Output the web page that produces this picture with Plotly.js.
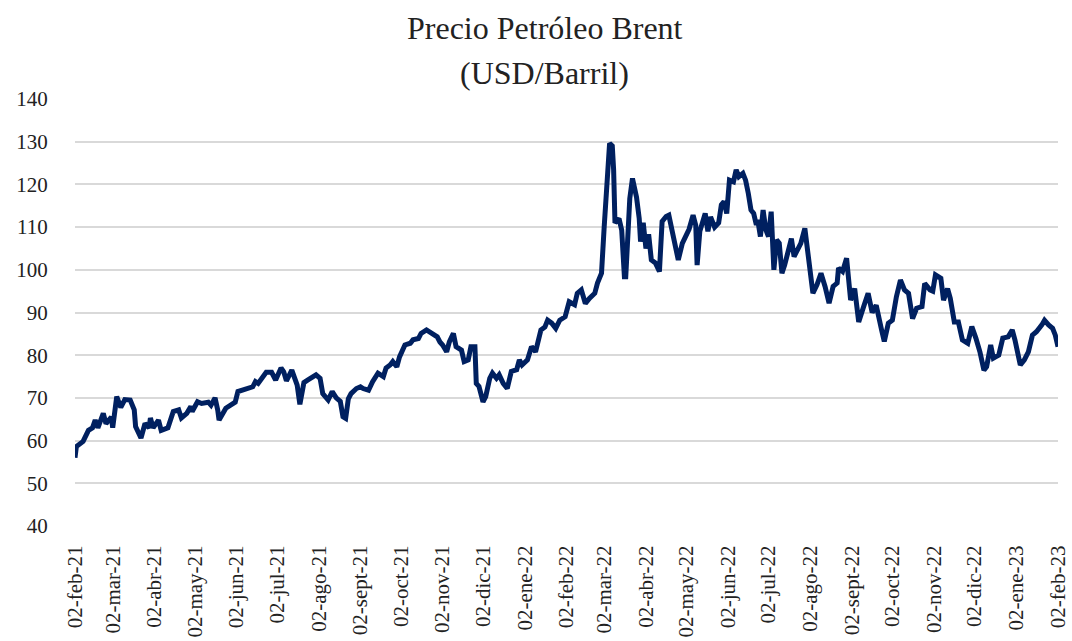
<!DOCTYPE html>
<html>
<head>
<meta charset="utf-8">
<script src="https://cdn.plot.ly/plotly-3.0.1.min.js"></script>
<style>
  body { margin: 0; background: #fff; }
  #grafico { width: 1072px; height: 641px; }
</style>
</head>
<body>
<div id="grafico"></div>
<script>
// Precio Brent (USD/barril)
var fechas = [
  "2021-02-02","2021-02-03","2021-02-08","2021-02-12","2021-02-15","2021-02-17","2021-02-19","2021-02-23","2021-02-25","2021-03-01",
  "2021-03-02","2021-03-05","2021-03-08","2021-03-11","2021-03-15","2021-03-18","2021-03-19","2021-03-23","2021-03-26","2021-03-29",
  "2021-03-30","2021-04-01","2021-04-05","2021-04-07","2021-04-12","2021-04-16","2021-04-20","2021-04-22","2021-04-26","2021-04-29",
  "2021-04-30","2021-05-04","2021-05-07","2021-05-12","2021-05-14","2021-05-17","2021-05-19","2021-05-20","2021-05-25","2021-05-28",
  "2021-06-01","2021-06-03","2021-06-08","2021-06-14","2021-06-16","2021-06-18","2021-06-24","2021-06-28","2021-07-01","2021-07-05",
  "2021-07-07","2021-07-09","2021-07-13","2021-07-16","2021-07-17","2021-07-19","2021-07-22","2021-07-25","2021-07-31","2021-08-03",
  "2021-08-05","2021-08-09","2021-08-12","2021-08-15","2021-08-18","2021-08-20","2021-08-22","2021-08-24","2021-08-26","2021-08-30",
  "2021-09-02","2021-09-04","2021-09-08","2021-09-11","2021-09-15","2021-09-19","2021-09-21","2021-09-24","2021-09-26","2021-09-29",
  "2021-10-01","2021-10-05","2021-10-09","2021-10-11","2021-10-15","2021-10-17","2021-10-21","2021-10-25","2021-10-29","2021-10-31",
  "2021-11-02","2021-11-05","2021-11-07","2021-11-10","2021-11-12","2021-11-16","2021-11-18","2021-11-21","2021-11-23","2021-11-26",
  "2021-11-27","2021-11-29","2021-12-02","2021-12-04","2021-12-07","2021-12-09","2021-12-12","2021-12-14","2021-12-17","2021-12-20",
  "2021-12-23","2021-12-27","2021-12-29","2021-12-31","2022-01-04","2022-01-07","2022-01-10","2022-01-14","2022-01-17","2022-01-19",
  "2022-01-22","2022-01-25","2022-01-28","2022-02-01","2022-02-04","2022-02-08","2022-02-10","2022-02-13","2022-02-16","2022-02-19",
  "2022-02-23","2022-02-25","2022-02-28","2022-03-02","2022-03-03","2022-03-04","2022-03-06","2022-03-08","2022-03-09","2022-03-10",
  "2022-03-13","2022-03-15","2022-03-17","2022-03-18","2022-03-19","2022-03-21","2022-03-23","2022-03-25","2022-03-26","2022-03-28",
  "2022-03-29","2022-03-31","2022-04-02","2022-04-04","2022-04-06","2022-04-09","2022-04-12","2022-04-14","2022-04-17","2022-04-19",
  "2022-04-21","2022-04-23","2022-04-26","2022-04-29","2022-05-01","2022-05-04","2022-05-07","2022-05-09","2022-05-10","2022-05-12",
  "2022-05-16","2022-05-18","2022-05-20","2022-05-23","2022-05-26","2022-05-28","2022-05-30","2022-06-01","2022-06-03","2022-06-06",
  "2022-06-08","2022-06-10","2022-06-13","2022-06-15","2022-06-17","2022-06-19","2022-06-21","2022-06-23","2022-06-24","2022-06-26",
  "2022-06-28","2022-06-30","2022-07-02","2022-07-04","2022-07-06","2022-07-08","2022-07-10","2022-07-12","2022-07-14","2022-07-17",
  "2022-07-19","2022-07-21","2022-07-24","2022-07-26","2022-07-29","2022-08-01","2022-08-04","2022-08-07","2022-08-10","2022-08-13",
  "2022-08-16","2022-08-19","2022-08-22","2022-08-23","2022-08-26","2022-08-29","2022-09-01","2022-09-04","2022-09-07","2022-09-11",
  "2022-09-14","2022-09-17","2022-09-20","2022-09-24","2022-09-26","2022-09-29","2022-10-02","2022-10-05","2022-10-08","2022-10-11",
  "2022-10-14","2022-10-17","2022-10-20","2022-10-24","2022-10-26","2022-10-30","2022-11-01","2022-11-03","2022-11-07","2022-11-09",
  "2022-11-12","2022-11-14","2022-11-17","2022-11-20","2022-11-23","2022-11-27","2022-11-30","2022-12-03","2022-12-06","2022-12-09",
  "2022-12-11","2022-12-14","2022-12-16","2022-12-20","2022-12-23","2022-12-27","2022-12-30","2023-01-01","2023-01-03","2023-01-05",
  "2023-01-08","2023-01-11","2023-01-14","2023-01-17","2023-01-21","2023-01-23","2023-01-26","2023-01-29","2023-01-31","2023-02-02"
];
var precios = [
  56.0,58.6,59.8,62.4,63.0,64.8,63.0,66.4,64.0,65.5,
  63.0,70.3,67.8,69.6,69.5,67.2,63.3,60.6,64.0,63.0,
  65.3,63.0,64.8,62.4,63.0,66.8,67.2,65.3,66.4,68.0,
  66.8,69.1,68.7,69.0,68.3,70.0,67.1,64.8,67.6,68.3,
  69.0,71.5,71.9,72.6,73.8,73.4,76.0,76.0,74.2,77.0,
  76.1,74.0,76.5,74.3,73.0,68.5,73.6,74.2,75.4,74.6,
  71.0,69.5,71.5,70.0,69.2,65.6,65.2,69.8,71.0,72.2,
  72.6,72.2,71.8,73.8,75.8,75.0,77.0,77.7,78.5,77.3,
  79.6,82.4,82.8,83.6,83.9,85.1,85.9,85.1,84.3,83.1,
  82.4,80.8,83.1,85.1,82.0,81.2,78.5,78.9,82.0,82.0,
  73.4,72.7,69.1,70.3,74.6,75.8,74.6,75.4,73.4,72.2,
  76.2,76.6,78.9,77.7,78.9,82.0,80.8,85.9,86.6,88.2,
  87.5,86.3,88.2,89.0,92.5,91.8,94.5,95.3,92.1,93.3,
  94.5,96.9,99.2,110.1,114.5,118.0,129.6,129.0,123.4,111.0,
  112.0,109.3,98.4,98.4,107.0,116.7,121.4,119.0,117.0,112.0,
  106.6,111.0,105.0,108.3,102.3,101.6,99.6,111.3,112.5,112.8,
  109.4,106.2,102.3,106.2,107.3,109.5,112.8,110.4,101.1,109.0,
  113.2,109.0,112.4,110.0,111.0,115.2,116.0,113.2,121.0,120.6,
  123.4,121.8,122.6,121.0,117.9,114.0,113.2,110.5,111.7,107.8,
  114.0,109.4,107.8,113.6,100.0,107.0,106.2,99.2,101.1,105.4,
  107.3,103.1,104.7,106.2,109.7,101.5,94.5,96.5,99.2,96.1,
  92.2,96.1,96.9,100.4,99.6,102.7,92.9,95.6,87.8,91.7,
  94.5,90.0,91.7,85.9,83.2,87.5,88.2,93.7,97.6,95.3,
  94.5,88.6,91.0,91.4,96.8,95.3,95.0,98.8,98.0,92.9,
  95.6,93.3,87.8,87.8,83.6,82.8,86.7,84.0,80.8,76.5,
  77.3,82.4,79.3,80.0,84.0,84.3,85.9,83.6,81.2,77.7,
  78.9,80.8,84.7,85.5,87.1,88.2,87.1,86.3,84.7,82.0
];

var mesesTick = ["2021-02-02","2021-03-02","2021-04-02","2021-05-02","2021-06-02","2021-07-02","2021-08-02","2021-09-02",
  "2021-10-02","2021-11-02","2021-12-02","2022-01-02","2022-02-02","2022-03-02","2022-04-02","2022-05-02","2022-06-02",
  "2022-07-02","2022-08-02","2022-09-02","2022-10-02","2022-11-02","2022-12-02","2023-01-02","2023-02-02"];
var etiquetas = ["02-feb-21","02-mar-21","02-abr-21","02-may-21","02-jun-21","02-jul-21","02-ago-21","02-sept-21",
  "02-oct-21","02-nov-21","02-dic-21","02-ene-22","02-feb-22","02-mar-22","02-abr-22","02-may-22","02-jun-22",
  "02-jul-22","02-ago-22","02-sept-22","02-oct-22","02-nov-22","02-dic-22","02-ene-23","02-feb-23"];
var titulo = ["Precio Petróleo Brent", "(USD/Barril)"];

var fuente = "Liberation Serif, DejaVu Serif, serif";

var trace = {
  x: fechas,
  y: precios,
  type: "scatter",
  mode: "lines",
  line: {color: "#002060", width: 5},
  hoverinfo: "x+y"
};

// titulo en dos lineas, como en el original
var notas = titulo.map(function (t, i) {
  return {
    text: t,
    xref: "paper", x: 0.478, xanchor: "center",
    yref: "paper", y: [1.166, 1.061][i], yanchor: "middle",
    showarrow: false,
    font: {family: fuente, size: 32, color: "#222222"}
  };
});

var layout = {
  width: 1072,
  height: 641,
  margin: {l: 75, r: 14, t: 99, b: 115},
  paper_bgcolor: "#ffffff",
  plot_bgcolor: "#ffffff",
  showlegend: false,
  font: {family: fuente, color: "#222222"},
  annotations: notas,
  xaxis: {
    type: "date",
    range: ["2021-02-02", "2023-02-02"],
    tickvals: mesesTick,
    ticktext: etiquetas,
    tickangle: -90,
    tickfont: {family: fuente, size: 21, color: "#222222"},
    showgrid: false,
    zeroline: false,
    showline: false,
    ticks: "outside",
    ticklen: 10,
    tickcolor: "rgba(0,0,0,0)"
  },
  yaxis: {
    range: [40, 140],
    dtick: 10,
    tick0: 40,
    tickfont: {family: fuente, size: 21, color: "#222222"},
    showgrid: true,
    gridcolor: "#d9d9d9",
    gridwidth: 2,
    zeroline: false,
    showline: false,
    ticks: "outside",
    ticklen: 22,
    tickcolor: "rgba(0,0,0,0)"
  }
};

Plotly.newPlot("grafico", [trace], layout, {displayModeBar: false, staticPlot: true});
</script>
</body>
</html>
